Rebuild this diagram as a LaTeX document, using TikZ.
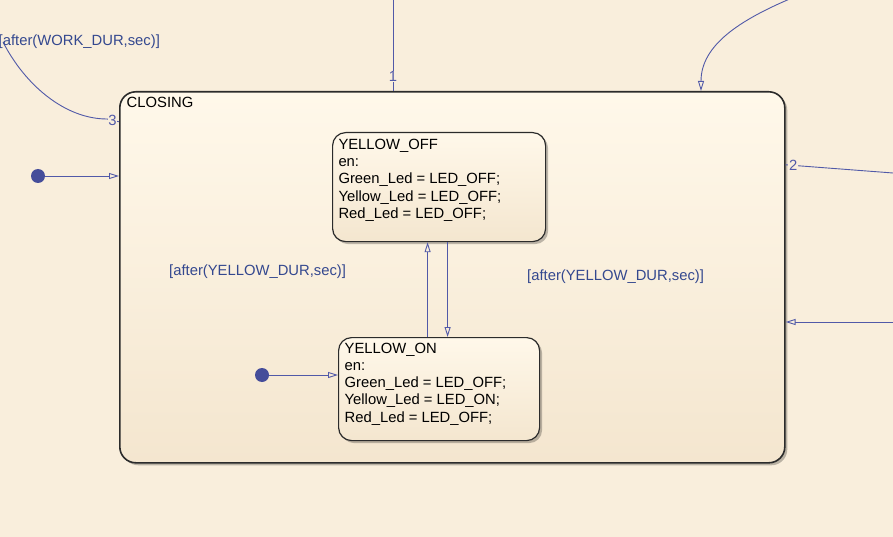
\documentclass[tikz,border=0pt]{standalone}
\usepackage{fontspec}
\setmainfont{Liberation Sans}
\usetikzlibrary{positioning, arrows.meta, shadows}

\definecolor{chartbg}{HTML}{F9EEDC}
\definecolor{statetop}{HTML}{FFF8EA}
\definecolor{statebot}{HTML}{F4E6CF}
\definecolor{transblue}{HTML}{5159A8}
\definecolor{guardblue}{HTML}{34488F}
\definecolor{dotblue}{HTML}{454D9A}
\definecolor{stateedge}{HTML}{2B2B2B}

\tikzset{
    state/.style={shape=rectangle, draw=stateedge, line width=1.2pt, anchor=north west, inner sep=0pt, top color=statetop, bottom color=statebot, drop shadow={shadow xshift=2.5pt, shadow yshift=-2.5pt, opacity=0.25, fill=black}},
    statetext/.style={anchor=north west, inner sep=0pt, align=left, text=black},
    guard/.style={anchor=base west, inner sep=0pt, text=guardblue},
    order/.style={fill=chartbg, inner sep=0.6pt, text=transblue},
    trans/.style={draw=transblue, line width=0.9pt, -{Triangle[open, length=10pt, width=6pt]}},
    transline/.style={draw=transblue, line width=0.9pt},
    defaultdot/.style={shape=circle, fill=dotblue, inner sep=0pt, minimum size=14pt},
}

\begin{document}
\begin{tikzpicture}[x=1pt, y=-1pt, font=\fontsize{14.8}{17.3}\selectfont]
    \useasboundingbox (0,0) rectangle (893,537);
    \fill[chartbg] (0,0) rectangle (893,537);

    \node[state, line width=1.6pt, rounded corners=16pt, minimum width=665pt, minimum height=371pt] (closing) at (119,91) {};
    \node[state, rounded corners=13pt, minimum width=213pt, minimum height=109pt] (off) at (332,132) {};
    \node[state, rounded corners=13pt, minimum width=201pt, minimum height=103pt] (on) at (338,337) {};

    \node[statetext] (closingname) at (126.5,96.5) {CLOSING};
    \node[statetext] (offtext) at (338.3,138.8) {YELLOW\_OFF\\en:\\Green\_Led = LED\_OFF;\\Yellow\_Led = LED\_OFF;\\Red\_Led = LED\_OFF;};
    \node[statetext] (ontext) at (344.5,342.5) {YELLOW\_ON\\en:\\Green\_Led = LED\_OFF;\\Yellow\_Led = LED\_ON;\\Red\_Led = LED\_OFF;};

    \node[defaultdot] (closingdot) at (38,176) {};
    \node[defaultdot] (ondot) at (262,375) {};

    \coordinate (top1) at (393,0);
    \coordinate (top2) at (701,0);
    \coordinate (in1) at (792,-2);
    \coordinate (end2) at (893,173);
    \coordinate (in2) at (893,322);
    \coordinate (end3) at (3,42);

    \draw[trans] (closingdot) -- (closingdot -| closing.west);
    \draw[trans] (ondot) -- (ondot -| on.west);
    \draw[trans] ([xshift=-11.5pt]on.north) -- ([xshift=-11.5pt]off.south);
    \draw[trans] ([xshift=8.5pt]off.south) -- ([xshift=8.5pt]on.north);

    \draw[transline] (closing.north -| top1) -- node[order, pos=0.16] (order1) {1} (top1);
    \draw[trans] (in1) .. controls (740,20) and (701,45) .. (closing.north -| top2);
    \draw[transline] ([yshift=112.5pt]closing.east) -- node[order, pos=0.07] (order2) {2} (end2);
    \draw[trans] (in2) -- (closing.east |- in2);
    \draw[transline] ([yshift=155.5pt]closing.west) -- (107,119) .. controls (65,119) and (25,85) .. (end3);
    \node[order] (order3) at (112.5,120) {3};

    \node[guard] (onguard) at (169,275) {[after(YELLOW\_DUR,sec)]};
    \node[guard] (offguard) at (527,280) {[after(YELLOW\_DUR,sec)]};
    \node[guard] (closingguard) at (-1.5,46) {[after(WORK\_DUR,sec)]};
\end{tikzpicture}
\end{document}
